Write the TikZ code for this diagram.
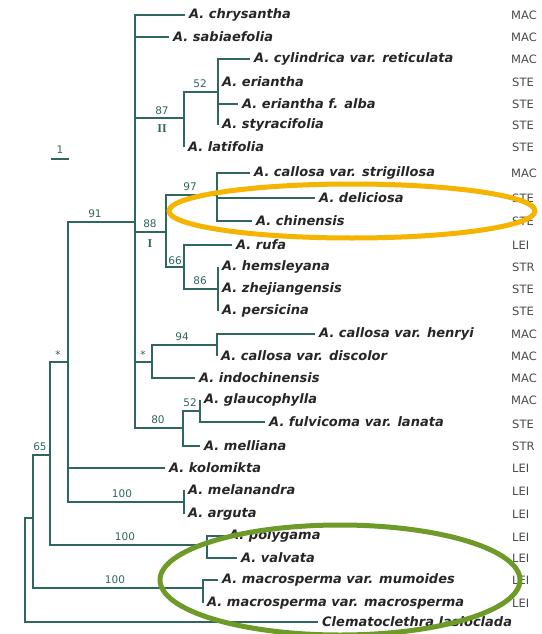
\documentclass[tikz,border=0pt]{standalone}
\usepackage{fontspec}
\setmainfont{Liberation Serif}
\setsansfont{DejaVu Sans}
\newfontfamily\taxfont{DejaVu Sans}
\usetikzlibrary{positioning}
\usepackage{xcolor}
\definecolor{treeline}{HTML}{2F6660}
\definecolor{taxtext}{HTML}{262626}
\definecolor{grpgray}{HTML}{4A4A4A}
\definecolor{ringorange}{HTML}{F5B400}
\definecolor{ringgreen}{HTML}{6E9A2A}

\begin{document}
\begin{tikzpicture}[
  x=1pt, y=-1pt,
  taxon/.style={anchor=west, inner sep=4pt, text=taxtext, font=\taxfont\bfseries\itshape\fontsize{13}{14}\selectfont},
  grp/.style={anchor=west, inner sep=0pt, text=grpgray, font=\sffamily\fontsize{11.5}{13}\selectfont},
  supp/.style={inner sep=1pt, text=treeline, font=\sffamily\fontsize{10.5}{11}\selectfont},
  clade/.style={inner sep=1pt, text=treeline, font=\rmfamily\bfseries\fontsize{12}{13}\selectfont},
  branch/.style={draw=treeline, line width=1.7pt},
  ring/.style={line width=5pt}
]
\useasboundingbox[fill=white] (0,0) rectangle (541,634);

% internal nodes
\coordinate (root) at (25,570);
\coordinate (ingrp) at (33,518);
\coordinate (n65) at (50,455);
\coordinate (nstar) at (68,362);
\coordinate (n91) at (135,222);
\coordinate (n87) at (184,118);
\coordinate (n52) at (218,92);
\coordinate (n88) at (166,232);
\coordinate (n97) at (217,195);
\coordinate (n66) at (184,267);
\coordinate (n86) at (218,289);
\coordinate (nstarb) at (152,362);
\coordinate (n94) at (217,345);
\coordinate (n80) at (183,428);
\coordinate (n62) at (200,411);
\coordinate (nmel) at (184,502);
\coordinate (npol) at (207,545);
\coordinate (nmac) at (203,588);

% taxa
\node[taxon] (chry) at (185,15) {A. chrysantha};
\node[taxon] (sabi) at (169,37) {A. sabiaefolia};
\node[taxon] (cyli) at (250,59) {A. cylindrica var. reticulata};
\node[taxon] (eria) at (218,82) {A. eriantha};
\node[taxon] (alba) at (238,104) {A. eriantha f. alba};
\node[taxon] (styr) at (218,125) {A. styracifolia};
\node[taxon] (lati) at (184,147) {A. latifolia};
\node[taxon] (stri) at (250,173) {A. callosa var. strigillosa};
\node[taxon] (deli) at (315,198) {A. deliciosa};
\node[taxon] (chin) at (252,221) {A. chinensis};
\node[taxon] (rufa) at (232,245) {A. rufa};
\node[taxon] (hems) at (218,267) {A. hemsleyana};
\node[taxon] (zhej) at (218,289) {A. zhejiangensis};
\node[taxon] (pers) at (218,311) {A. persicina};
\node[taxon] (henr) at (315,334) {A. callosa var. henryi};
\node[taxon] (disc) at (217,356) {A. callosa var. discolor};
\node[taxon] (indo) at (195,378) {A. indochinensis};
\node[taxon] (glau) at (200,400) {A. glaucophylla};
\node[taxon] (fulv) at (265,422) {A. fulvicoma var. lanata};
\node[taxon] (mell) at (200,446) {A. melliana};
\node[taxon] (kolo) at (165,468) {A. kolomikta};
\node[taxon] (mela) at (184,490) {A. melanandra};
\node[taxon] (argu) at (184,514) {A. arguta};
\node[taxon] (poly) at (225,536) {A. polygama};
\node[taxon] (valv) at (237,558) {A. valvata};
\node[taxon] (mumo) at (218,580) {A. macrosperma var. mumoides};
\node[taxon] (macr) at (203,603) {A. macrosperma var. macrosperma};
\node[taxon] (clem) at (318,622) {Clematoclethra lasioclada};

% sections
\node[grp] (gchry) at (511,15) {MAC};
\node[grp] (gsabi) at (511,37) {MAC};
\node[grp] (gcyli) at (511,59) {MAC};
\node[grp] (geria) at (512,82) {STE};
\node[grp] (galba) at (512,104) {STE};
\node[grp] (gstyr) at (512,125) {STE};
\node[grp] (glati) at (512,147) {STE};
\node[grp] (gstri) at (511,173) {MAC};
\node[grp] (gdeli) at (512,198) {STE};
\node[grp] (gchin) at (512,221) {STE};
\node[grp] (grufa) at (512,245) {LEI};
\node[grp] (ghems) at (512,267) {STR};
\node[grp] (gzhej) at (512,289) {STE};
\node[grp] (gpers) at (512,311) {STE};
\node[grp] (ghenr) at (511,334) {MAC};
\node[grp] (gdisc) at (511,356) {MAC};
\node[grp] (gindo) at (511,378) {MAC};
\node[grp] (gglau) at (511,400) {MAC};
\node[grp] (gfulv) at (512,424) {STE};
\node[grp] (gmell) at (512,446) {STR};
\node[grp] (gkolo) at (512,468) {LEI};
\node[grp] (gmela) at (512,491) {LEI};
\node[grp] (gargu) at (512,514) {LEI};
\node[grp] (gpoly) at (512,537) {LEI};
\node[grp] (gvalv) at (512,558) {LEI};
\node[grp] (gmumo) at (512,580) {LEI};
\node[grp] (gmacr) at (512,603) {LEI};

% branches
\draw[branch] (ingrp) -| (root);
\draw[branch] (clem.west) -| (root);
\draw[branch] (n65) -| (ingrp);
\draw[branch] (nmac) -| (ingrp);
\draw[branch] (nstar) -| (n65);
\draw[branch] (npol) -| (n65);
\draw[branch] (n91) -| (nstar);
\draw[branch] (kolo.west) -| (nstar);
\draw[branch] (nmel) -| (nstar);
\draw[branch] (chry.west) -| (n91);
\draw[branch] (sabi.west) -| (n91);
\draw[branch] (n87) -| (n91);
\draw[branch] (n88) -| (n91);
\draw[branch] (nstarb) -| (n91);
\draw[branch] (n80) -| (n91);
\draw[branch] (n52) -| (n87);
\draw[branch] (lati.west) -| (n87);
\draw[branch] (cyli.west) -| (n52);
\draw[branch] (eria.west) -| (n52);
\draw[branch] (alba.west) -| (n52);
\draw[branch] (styr.west) -| (n52);
\draw[branch] (n97) -| (n88);
\draw[branch] (n66) -| (n88);
\draw[branch] (stri.west) -| (n97);
\draw[branch] (deli.west) -| (n97);
\draw[branch] (chin.west) -| (n97);
\draw[branch] (rufa.west) -| (n66);
\draw[branch] (n86) -| (n66);
\draw[branch] (hems.west) -| (n86);
\draw[branch] (zhej.west) -| (n86);
\draw[branch] (pers.west) -| (n86);
\draw[branch] (n94) -| (nstarb);
\draw[branch] (indo.west) -| (nstarb);
\draw[branch] (henr.west) -| (n94);
\draw[branch] (disc.west) -| (n94);
\draw[branch] (n62) -| (n80);
\draw[branch] (mell.west) -| (n80);
\draw[branch] (glau.west) -| (n62);
\draw[branch] (fulv.west) -| (n62);
\draw[branch] (mela.west) -| (nmel);
\draw[branch] (argu.west) -| (nmel);
\draw[branch] (poly.west) -| (npol);
\draw[branch] (valv.west) -| (npol);
\draw[branch] (mumo.west) -| (nmac);
\draw[branch] (macr.west) -| (nmac);

% support values
\node[supp] (s87) at (162,111) {87};
\node[clade] (cII) at (162,129) {II};
\node[supp] (s52) at (200,84) {52};
\node[supp] (s91) at (95,214) {91};
\node[supp] (s88) at (150,224) {88};
\node[clade] (cI) at (150,244) {I};
\node[supp] (s97) at (190,187) {97};
\node[supp] (s66) at (175,261) {66};
\node[supp] (s86) at (200,281) {86};
\node[supp] (s94) at (182,337) {94};
\node[supp] (sstb) at (143,355) {*};
\node[supp] (s80) at (158,420) {80};
\node[supp] (s62) at (190,403) {52};
\node[supp] (sst) at (58,355) {*};
\node[supp] (s65) at (40,447) {65};
\node[supp] (smel) at (122,494) {100};
\node[supp] (spol) at (125,537) {100};
\node[supp] (smac) at (115,580) {100};

% scale bar
\node[supp] (sclbl) at (60,150) {1};
\coordinate (sbl) at (51,159);
\coordinate (sbr) at (69,159);
\draw[branch] (sbl) -- (sbr);

% highlights
\draw[ring, draw=ringorange] (352,211) ellipse [x radius=183pt, y radius=27pt];
\draw[ring, draw=ringgreen] (340,580) ellipse [x radius=180pt, y radius=55pt];

\end{tikzpicture}
\end{document}
